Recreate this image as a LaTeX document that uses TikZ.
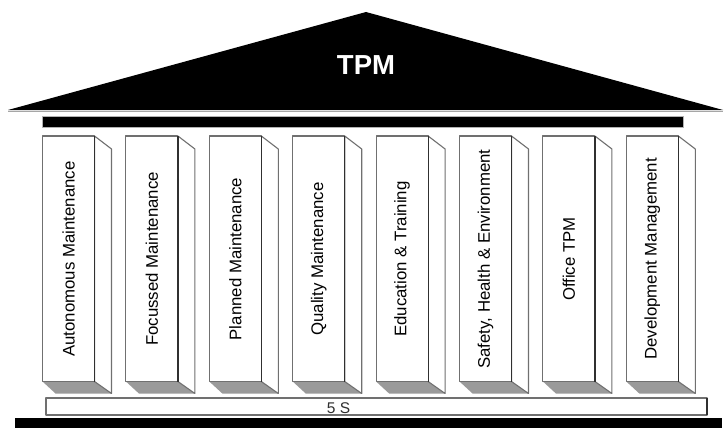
\documentclass[tikz,border=0pt]{standalone}
\usepackage{fontspec}
\setmainfont{Liberation Sans}
\definecolor{edgegray}{HTML}{707070}
\definecolor{darkedge}{HTML}{303030}
\definecolor{shadowgray}{HTML}{9A9A9A}
\tikzset{
  faceline/.style={draw=edgegray, line width=1.1pt, fill=white, line join=round},
  darkline/.style={draw=darkedge, line width=1.2pt},
  pillartext/.style={rotate=90, inner sep=0pt, text=black, font=\fontsize{16.8}{18}\selectfont},
  rooftext/.style={text=white, font=\bfseries\fontsize{27.5}{30}\selectfont, inner sep=0pt},
  basetext/.style={text=darkedge, font=\fontsize{15.5}{17}\selectfont, inner sep=0pt}
}
\begin{document}
\begin{tikzpicture}[x=1pt,y=-1pt]
\useasboundingbox (0,0) rectangle (725,428);
% roof
\fill[black] (8,110) -- (366,12) -- (723,110) -- cycle;
\draw[gray!70, line width=0.8pt] (8,111.3) -- (723,111.3);
\node[rooftext] (tpm) at (366,65) {TPM};
% architrave
\fill[black] (42,116) rectangle (683,127);
\draw[gray!60, line width=0.5pt] (42,116) rectangle (683,127);
% pillars
\foreach \i/\t in {1/{Autonomous Maintenance},2/{Focussed Maintenance},3/{Planned Maintenance},4/{Quality Maintenance},5/{Education \& Training},6/{Safety, Health \& Environment},7/{Office TPM},8/{Development Management}}{
  \pgfmathsetmacro\x{42.5+(\i-1)*83.4}
  \fill[shadowgray] (\x,381.5) -- (\x+52,381.5) -- (\x+69,393.5) -- (\x+13,393.5) -- cycle;
  \draw[faceline] (\x+52,136) -- (\x+69,149) -- (\x+69,393.5) -- (\x+52,381.5) -- cycle;
  \draw[faceline] (\x,136) rectangle (\x+52,381.5);
  \draw[darkline] (\x+52,136) -- (\x+52,381.5);
  \node[pillartext] (p\i) at (\x+26,259) {\t};
}
% 5S step
\draw[faceline] (46,398) rectangle (707,415);
\draw[darkline] (707,398) -- (707,415);
\node[basetext] (fives) at (338.5,408.5) {5 S};
% base
\fill[black] (15,417.5) rectangle (722,428);
\end{tikzpicture}
\end{document}
